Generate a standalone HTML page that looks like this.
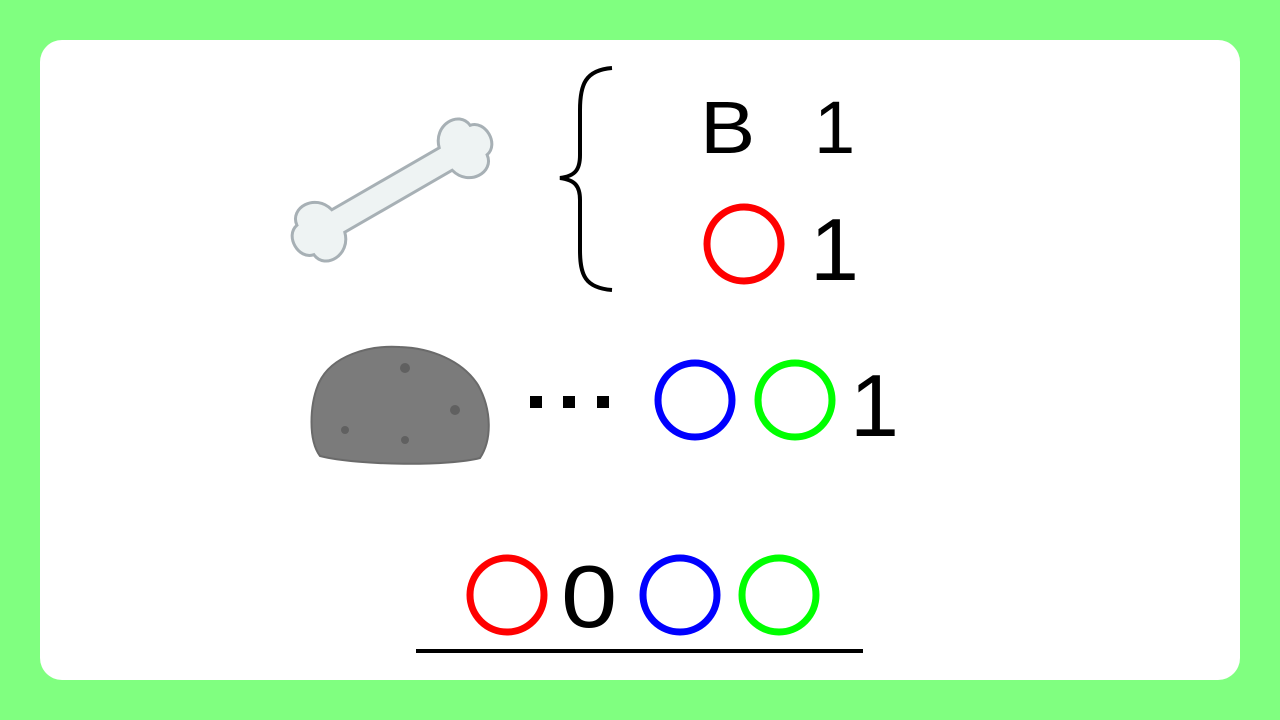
<!DOCTYPE html>
<html><head><meta charset="utf-8"><style>
html,body{margin:0;padding:0;width:1280px;height:720px;overflow:hidden;background:#80ff80}
svg{display:block}
text{font-family:"Liberation Sans",sans-serif;fill:#000}
</style></head><body>
<svg width="1280" height="720" viewBox="0 0 1280 720">
<rect x="0" y="0" width="1280" height="720" fill="#80ff80"/>
<rect x="40" y="40" width="1200" height="640" rx="22" fill="#fff"/>
<g transform="translate(392,190) rotate(-30)">
<path d="M-62,-13 L62,-13 C68,-36 98,-36 100,-17 C116,-14 116,14 100,17 C98,36 68,36 62,13 L-62,13 C-68,36 -98,36 -100,17 C-116,14 -116,-14 -100,-17 C-98,-36 -68,-36 -62,-13 Z" fill="#eef3f3" stroke="#a7b0b5" stroke-width="3"/>
</g>
<path d="M612,68 C585,70 580,85 580,110 L580,155 C580,170 575,176 560,178 C575,180 580,186 580,200 L580,250 C580,275 585,288 612,290" fill="none" stroke="#000" stroke-width="4"/>
<text x="700" y="153" font-size="74" transform="translate(700,0) scale(1.12,1) translate(-700,0)">B</text>
<text x="814" y="153" font-size="74">1</text>
<circle cx="744" cy="244" r="37" fill="none" stroke="#ff0000" stroke-width="7"/>
<text x="810" y="280" font-size="88">1</text>
<path d="M318,385 C330,355 370,345 400,347 C430,348 462,360 478,385 C492,410 492,440 480,458 C450,466 360,466 320,456 C308,440 310,405 318,385 Z" fill="#7b7b7b" stroke="#6a6a6a" stroke-width="2"/>
<g fill="#606060"><circle cx="405" cy="368" r="5"/><circle cx="455" cy="410" r="5"/><circle cx="345" cy="430" r="4"/><circle cx="405" cy="440" r="4"/></g>
<g fill="#000"><rect x="530" y="396" width="12" height="12"/><rect x="563" y="396" width="12" height="12"/><rect x="597" y="396" width="12" height="12"/></g>
<circle cx="695" cy="400" r="37" fill="none" stroke="#0000ff" stroke-width="7"/>
<circle cx="795" cy="400" r="37" fill="none" stroke="#00ff00" stroke-width="7"/>
<text x="850" y="436" font-size="88">1</text>
<circle cx="507" cy="595" r="37" fill="none" stroke="#ff0000" stroke-width="7"/>
<text x="561" y="627" font-size="88" transform="translate(561,0) scale(1.15,1) translate(-561,0)">0</text>
<circle cx="680" cy="595" r="37" fill="none" stroke="#0000ff" stroke-width="7"/>
<circle cx="779" cy="595" r="37" fill="none" stroke="#00ff00" stroke-width="7"/>
<rect x="416" y="649" width="447" height="4" fill="#000"/>
</svg>
</body></html>
